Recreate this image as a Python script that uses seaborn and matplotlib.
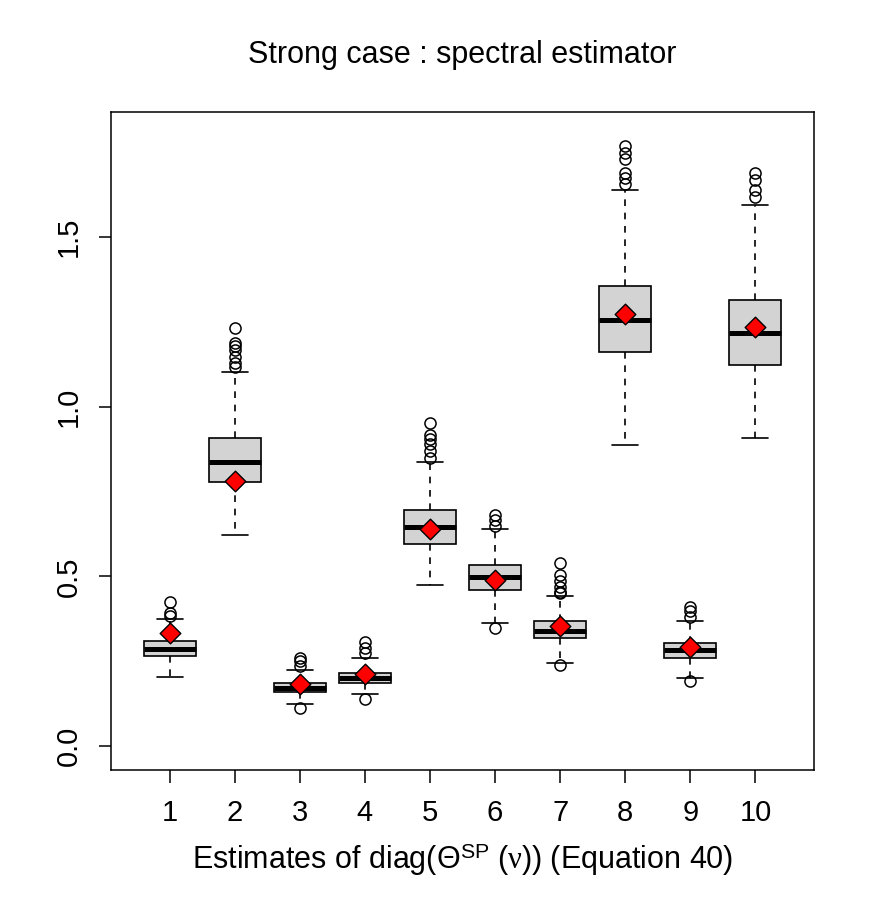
import numpy as np
import pandas as pd
import matplotlib
matplotlib.use("Agg")
import matplotlib.pyplot as plt
import seaborn as sns

# -------------------------------
# Box statistics
# -------------------------------
components = [1, 2, 3, 4, 5, 6, 7, 8, 9, 10]
q1 = [0.265, 0.777, 0.159, 0.186, 0.596, 0.460, 0.318, 1.162, 0.259, 1.123]
median = [0.287, 0.837, 0.172, 0.201, 0.646, 0.498, 0.340, 1.256, 0.283, 1.216]
q3 = [0.310, 0.909, 0.185, 0.216, 0.695, 0.534, 0.369, 1.357, 0.304, 1.316]
whislo = [0.203, 0.621, 0.123, 0.153, 0.473, 0.361, 0.244, 0.887, 0.201, 0.909]
whishi = [0.374, 1.102, 0.223, 0.259, 0.836, 0.641, 0.441, 1.640, 0.369, 1.595]
fliers = [
    [0.424, 0.393, 0.383],
    [1.231, 1.187, 1.179, 1.167, 1.147, 1.129, 1.117],
    [0.260, 0.251, 0.237, 0.112],
    [0.306, 0.289, 0.274, 0.139],
    [0.951, 0.917, 0.905, 0.890, 0.870, 0.850],
    [0.681, 0.666, 0.649, 0.347],
    [0.539, 0.504, 0.485, 0.470, 0.455, 0.450, 0.239],
    [1.769, 1.747, 1.729, 1.690, 1.673, 1.656],
    [0.411, 0.398, 0.381, 0.190],
    [1.688, 1.668, 1.639, 1.619],
]
# red diamonds (true values)
truth = [0.333, 0.781, 0.183, 0.212, 0.639, 0.489, 0.353, 1.273, 0.291, 1.234]

# -------------------------------
# Style
# -------------------------------
sns.set_style("ticks")
plt.rcParams['font.family'] = ['Liberation Sans', 'DejaVu Sans']
plt.rcParams['text.color'] = 'black'
plt.rcParams['mathtext.fontset'] = 'custom'
plt.rcParams['mathtext.rm'] = 'Liberation Sans'
plt.rcParams['mathtext.it'] = 'Liberation Serif'
plt.rcParams['mathtext.sf'] = 'Liberation Sans'

fig = plt.figure(figsize=(8.72, 9.10), dpi=100)
ax = fig.add_axes([111 / 872, 140 / 910, 703 / 872, 658 / 910])

stats = []
for i in range(len(components)):
    stats.append(dict(q1=q1[i], med=median[i], q3=q3[i],
                      whislo=whislo[i], whishi=whishi[i], fliers=fliers[i]))

lw = 1.2
ax.bxp(stats, positions=components, widths=0.8, patch_artist=True,
       showfliers=True,
       boxprops=dict(facecolor="#D3D3D3", edgecolor="black", linewidth=lw),
       medianprops=dict(color="black", linewidth=3.6, solid_capstyle="butt"),
       whiskerprops=dict(color="black", linewidth=lw, linestyle=(0, (4, 4))),
       capprops=dict(color="black", linewidth=lw),
       capwidths=0.4,
       flierprops=dict(marker="o", markersize=8, markerfacecolor="none",
                       markeredgecolor="black", markeredgewidth=1.1))

df_truth = pd.DataFrame({"component": components, "value": truth})
sns.scatterplot(data=df_truth, x="component", y="value", marker="D", s=110,
                color="red", edgecolor="black", linewidth=1.0, zorder=5, ax=ax)

ax.set_xlim(0.1, 10.9)
ax.set_ylim(-0.071, 1.869)
ax.set_xticks(components)
ax.set_xticklabels([str(c) for c in components])
ax.set_yticks([0.0, 0.5, 1.0, 1.5])
ax.set_yticklabels(["0.0", "0.5", "1.0", "1.5"], rotation=90, va="center")
ax.tick_params(axis="both", labelsize=21, length=9, width=1.1, colors="black")
ax.tick_params(axis="x", pad=12)
ax.tick_params(axis="y", pad=11)
for s in ax.spines.values():
    s.set_linewidth(1.1)
    s.set_color("black")

ax.set_xlabel(r"Estimates of diag$\mathit{(\Theta}^{\mathrm{SP}}\ \mathit{(\nu))}$ (Equation 40)",
              fontsize=22, labelpad=10, color="black")
ax.set_ylabel("")
ax.set_title("Strong case : spectral estimator", fontsize=22, pad=35, color="black")

fig.savefig("out.png", dpi=100)
